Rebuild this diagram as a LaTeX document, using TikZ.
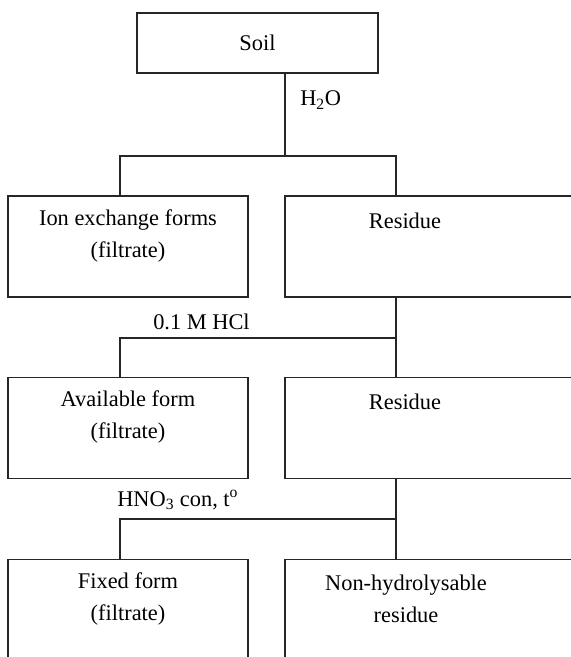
\documentclass[tikz,border=0pt]{standalone}
\usepackage{fontspec}
\setmainfont{Liberation Serif}
\usetikzlibrary{positioning}
\tikzset{
	stage/.style={rectangle, draw=black!85, line width=1.1pt, minimum width=180pt, minimum height=75.75pt, inner sep=0pt, font=\fontsize{16.8}{24}\selectfont},
	widestage/.style={stage, minimum width=240pt},
	caption/.style={align=center, inner sep=0pt, font=\fontsize{16.8}{24}\selectfont},
	reagent/.style={anchor=west, inner sep=0pt, font=\fontsize{16.8}{20}\selectfont},
	link/.style={draw=black!85, line width=1.1pt},
}
\begin{document}
\begin{tikzpicture}[x=0.75pt, y=-0.75pt]
		\useasboundingbox (0,0) rectangle (571,657);
		\clip (0,0) rectangle (571,657);
		% boxes
		\node[stage, minimum width=180.75pt, minimum height=45pt] (soil) at (257.5,43) {Soil};
		\node[stage] (ion) at (128,246.5) {};
		\node[widestage] (res1) at (445,246.5) {};
		\node[stage] (avail) at (128,428) {};
		\node[widestage] (res2) at (445,428) {};
		\node[stage] (fixed) at (128,610) {};
		\node[widestage] (nonhyd) at (445,610) {};
		% texts in boxes
		\node[caption] (ionT) at (128,236) {Ion exchange forms\\(filtrate)};
		\node[caption] (res1T) at (405,221) {Residue};
		\node[caption] (availT) at (128,417) {Available form\\(filtrate)};
		\node[caption] (res2T) at (405,402) {Residue};
		\node[caption] (fixedT) at (128,599) {Fixed form\\(filtrate)};
		\node[caption] (nonhydT) at (406,599) {Non-hydrolysable\\residue};
		% junctions
		\coordinate (j1) at (285,156);
		\coordinate (j1l) at (120,156);
		\coordinate (j1r) at (396,156);
		\coordinate (j2l) at (120,338);
		\coordinate (j2r) at (396,338);
		\coordinate (j3l) at (120,519);
		\coordinate (j3r) at (396,519);
		\draw[link] (j1 |- soil.south) -- (j1);
		\draw[link] (j1l |- ion.north) -- (j1l) -- (j1r) -- (j1r |- res1.north);
		\draw[link] (j2r |- res1.south) -- (j2r |- res2.north);
		\draw[link] (j2l |- avail.north) -- (j2l) -- (j2r);
		\draw[link] (j3r |- res2.south) -- (j3r |- nonhyd.north);
		\draw[link] (j3l |- fixed.north) -- (j3l) -- (j3r);
		% reagents
		\node[reagent] (water) at (300,100) {H\textsubscript{2}O};
		\node[reagent] (hcl) at (153,322) {0.1 M HCl};
		\node[reagent] (nitric) at (117,500) {HNO\textsubscript{3} con, t\textsuperscript{o}};
	\end{tikzpicture}
\end{document}
